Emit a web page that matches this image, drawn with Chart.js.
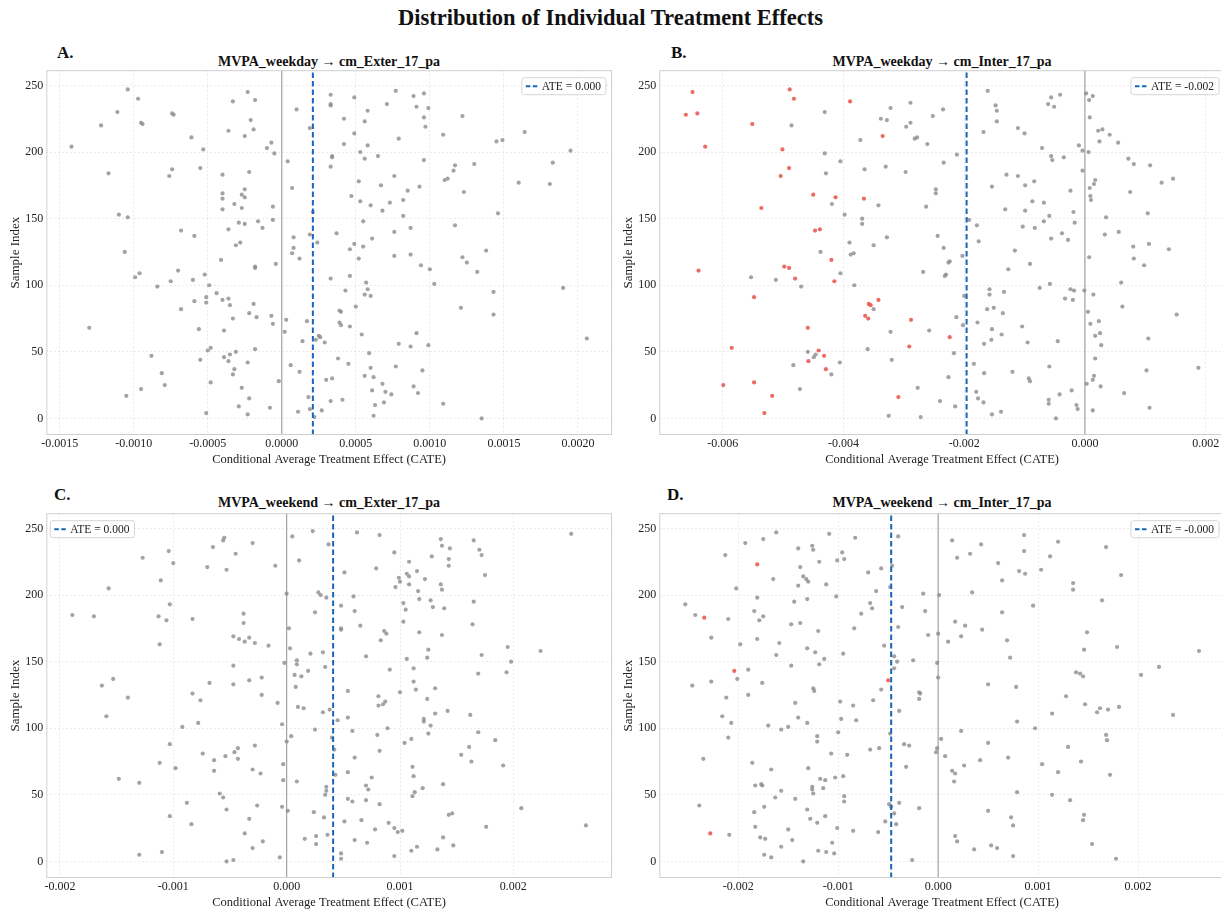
<!DOCTYPE html>
<html lang="en">
<head>
  <meta charset="UTF-8" />
  <title>Distribution of Individual Treatment Effects</title>
  <script src="https://cdn.jsdelivr.net/npm/chart.js"></script>
  <style>
    body {
      margin: 0;
      width: 1221px;
      height: 911px;
      overflow: hidden;
      position: relative;
      background: #fff;
      font-family: 'Liberation Serif', serif;
      color: #111;
    }
    h1 {
      position: absolute;
      top: 5px;
      left: 0;
      width: 1221px;
      margin: 0;
      text-align: center;
      font-size: 22.5px;
      line-height: 26px;
      font-weight: bold;
    }
    .panel { position: absolute; width: 620px; height: 410px; }
    .letter { position: absolute; font-size: 17px; line-height: 18px; font-weight: bold; }
    .ptitle { position: absolute; width: 400px; text-align: center; font-size: 14px; line-height: 16px; font-weight: bold; }
  </style>
</head>
<body>
  <h1>Distribution of Individual Treatment Effects</h1>

  <div class="letter" style="left:57px;top:44px">A.</div>
  <div class="letter" style="left:671px;top:44px">B.</div>
  <div class="letter" style="left:54px;top:486px">C.</div>
  <div class="letter" style="left:667px;top:486px">D.</div>

  <div class="ptitle" id="t0" style="left:129px;top:54px"></div>
  <div class="ptitle" id="t1" style="left:742px;top:54px"></div>
  <div class="ptitle" id="t2" style="left:129px;top:495px"></div>
  <div class="ptitle" id="t3" style="left:742px;top:495px"></div>

  <div class="panel" style="left:0;top:60px"><canvas id="c0" width="620" height="410"></canvas></div>
  <div class="panel" style="left:613px;top:60px"><canvas id="c1" width="620" height="410"></canvas></div>
  <div class="panel" style="left:0;top:503px"><canvas id="c2" width="620" height="410"></canvas></div>
  <div class="panel" style="left:613px;top:503px"><canvas id="c3" width="620" height="410"></canvas></div>

  <script>
    // ---- data: [CATE, sample index] ----
    const panelTitles = ['MVPA_weekday \u2192 cm_Exter_17_pa', 'MVPA_weekday \u2192 cm_Inter_17_pa',
                         'MVPA_weekend \u2192 cm_Exter_17_pa', 'MVPA_weekend \u2192 cm_Inter_17_pa'];
    const ateValues = [0.00021, -0.00196, 0.00041, -0.00047];
    const ateLabels = ['ATE = 0.000', 'ATE = -0.002', 'ATE = 0.000', 'ATE = -0.000'];
    const legendSide = ['right', 'right', 'left', 'right'];
    const xMins = [-0.00159, -0.00705, -0.00212, -0.00279];
    const xMaxs = [0.00223, 0.00232, 0.00287, 0.00287];
    const yRange = [-12.45, 261.45];
    const yTicks = [0, 50, 100, 150, 200, 250];

    const aTicks = [-0.0015, -0.001, -0.0005, 0, 0.0005, 0.001, 0.0015, 0.002];
    const aTickLabels = ['-0.0015', '-0.0010', '-0.0005', '0.0000', '0.0005', '0.0010', '0.0015', '0.0020'];
    const bTicks = [-0.006, -0.004, -0.002, 0, 0.002];
    const bTickLabels = ['-0.006', '-0.004', '-0.002', '0.000', '0.002'];
    const cdTicks = [-0.002, -0.001, 0, 0.001, 0.002];
    const cdTickLabels = ['-0.002', '-0.001', '0.000', '0.001', '0.002'];

    const aPoints = [
      [-0.00142,204],[-0.00122,220],[-0.00111,230],[-0.00104,247],[-0.00097,240],[-0.00095,222],[-0.00094,221],[-0.00117,184],
      [-0.00074,229],[-0.00073,228],[-0.00076,182],[-0.00074,187],[-0.00061,211],[-0.00055,188],[-0.00053,202],[-0.0004,183],
      [-0.00036,216],[-0.00033,238],[-0.00025,212],[-0.00023,245],[-0.00021,224],[-0.00019,217],[-0.00018,239],[-0.00022,185],
      [-0.0001,203],[-0.00007,207],[-0.00005,199],[0.00004,193],[0.0001,232],[0.00019,218],[0.00033,243],[0.00033,236],
      [0.00033,235],[0.00034,197],[0.00034,196],[0.00033,189],[0.00042,225],[0.00042,206],[0.00049,214],[0.00049,241],
      [0.00053,200],[0.00056,223],[0.00058,231],[0.00058,205],[0.00056,195],[0.00065,197],[0.00071,236],[0.00077,246],
      [0.00079,210],[0.00076,182],[0.00089,242],[0.00091,234],[0.00096,244],[0.00099,233],[0.00096,226],[0.00097,219],
      [0.00096,194],[0.00109,213],[0.00116,186],[0.00117,190],[0.00122,227],[0.0013,191],[0.00145,208],[0.00149,209],
      [0.00164,215],[0.00183,192],[0.00195,201],
      [0.0011,179],[0.00112,180],[0.0016,177],[0.00181,176],[0.00123,170],[0.00007,173],[0.00047,167],[0.00052,178],
      [0.00067,175],[0.00085,171],[0.00093,174],[0.00053,163],[0.0006,160],[0.00068,156],[0.00073,162],[0.00082,164],
      [0.00082,152],[0.00055,148],[0.00146,154],[0.00117,145],[0.00076,140],[0.00087,143],[0.00037,139],[0.00061,135],
      [0.00049,131],[0.00046,127],[0.00055,129],[0.00076,122],[0.00087,123],[0.00138,126],[0.00052,120],[0.00122,121],
      [0.00125,117],[0.00094,115],[0.001,112],[0.00132,110],[0.00046,107],[0.00033,105],[0.00057,102],[0.00103,101],
      [0.00058,97],[0.00043,96],[0.00056,93],[0.0006,92],[0.00143,95],[0.0019,98],[0.0005,84],[0.00121,83],[0.00039,81],[0.0004,80],
      [-0.0004,169],[-0.0004,165],[-0.00025,172],[-0.00027,168],[-0.00025,166],[-0.00032,161],[-0.00027,158],[-0.0004,157],
      [-0.00006,159],[-0.00006,149],[-0.00016,148],[-0.00013,143],[-0.00025,146],[-0.00029,147],[-0.00036,142],[-0.00028,132],
      [-0.00031,130],[-0.0011,153],[-0.00104,151],[-0.00106,125],[-0.00068,141],[-0.00059,137],[-0.00041,119],[-0.00018,114],
      [-0.00018,113],[-0.00004,116],[-0.00099,106],[-0.00096,109],[-0.0007,111],[-0.0006,104],[-0.00052,108],[-0.00075,103],
      [-0.00049,100],[-0.00084,99],[-0.00044,94],[-0.00051,91],[-0.00051,87],[-0.00059,88],[-0.0004,89],[-0.00036,90],
      [-0.00035,85],[-0.00019,86],[-0.00068,82],[0.00007,124],[0.00008,128],[0.00008,136],[0.00012,120],[0.00019,138],
      [0.00024,132],[0.00021,155],
      [0.00143,78],[-0.0013,68],[-0.00056,67],[-0.00039,66],[-0.00033,75],[-0.00022,79],[-0.00017,76],[-0.00007,77],
      [-0.00006,71],[0.00003,74],[0.00002,65],[0.00017,73],[0.00039,72],[0.0004,70],[0.00046,69],[0.00054,63],[0.00014,58],
      [0.00023,59],[0.00025,62],[0.00026,61],[0.00029,57],[0.00091,64],[0.00206,60],[0.00079,56],[0.00087,54],[0.00099,55],
      [-0.00018,52],[-0.0005,51],[-0.00048,53],[-0.00031,50],[0.00059,49],[-0.00088,47],[-0.00039,46],[-0.00035,48],
      [-0.00055,44],[-0.00036,43],[-0.00023,42],[0.00038,45],[0.00045,41],[0.00006,40],[0.0006,38],[0.00077,39],[-0.00032,37],
      [0.00095,36],[0.00012,35],[-0.00081,34],[-0.00033,33],[0.00056,32],[0.00062,31],[0.00034,30],[0.0003,29],[-0.00002,28],
      [-0.00048,27],[0.00068,26],[-0.00079,25],[0.00089,24],[-0.00027,23],[-0.00095,22],[0.00061,21],[0.0007,20],[0.00092,19],
      [0.00074,18],[-0.00105,17],[0.00018,16],[-0.00022,15],[0.00041,14],[0.00033,13],[0.00069,12],[0.00109,11],[0.00063,10],
      [-0.00029,9],[-0.00008,8],[0.00019,7],[0.00027,6],[0.00011,5],[-0.00051,4],[-0.00023,3],[0.00062,2],[0.00022,1],[0.00135,0]
    ];
    const aRedPoints = [];

    const bPoints = [
      [-0.00486,220],[-0.00431,230],[-0.00431,199],[-0.00429,184],[-0.00405,193],[-0.00372,209],[-0.00365,187],[-0.00338,225],
      [-0.00328,224],[-0.00322,233],[-0.0033,189],[-0.00296,219],[-0.00289,222],[-0.00289,237],[-0.00282,210],[-0.00278,211],
      [-0.00297,185],[-0.00261,206],[-0.00252,227],[-0.00235,232],[-0.00234,192],[-0.00212,198],[-0.00168,215],[-0.00161,246],
      [-0.00148,235],[-0.00146,231],[-0.00146,223],[-0.0013,183],[-0.00111,218],[-0.001,214],[-0.00111,182],[-0.00071,203],
      [-0.00056,197],[-0.00054,194],[-0.00035,196],[-0.00061,236],[-0.00051,234],[-0.00056,241],[-0.00041,243],[-0.0001,205],
      [-0.00004,201],[-0.00004,186],[0.00002,244],[0.00007,239],[0.00013,242],[0.00008,226],[0.00006,200],[0.00022,216],
      [0.00029,217],[0.00024,208],[0.00041,213],[0.00055,207],[0.00072,195],[0.00081,191],[0.00108,190],
      [-0.00419,161],[-0.00342,160],[-0.00398,153],[-0.00369,150],[-0.00369,146],[-0.0039,132],[-0.00388,123],[-0.00383,124],
      [-0.00438,125],[-0.0035,130],[-0.00328,136],[-0.00405,109],[-0.00553,106],[-0.00512,104],[-0.0047,99],[-0.00382,100],
      [-0.0035,82],[-0.00247,172],[-0.00247,169],[-0.00263,159],[-0.00244,137],[-0.00234,128],[-0.00224,118],[-0.00226,117],
      [-0.0023,108],[-0.00232,107],[-0.00268,110],[-0.00203,122],[-0.002,92],[-0.00192,149],[-0.00179,145],[-0.00176,133],
      [-0.00154,174],[-0.00132,157],[-0.00099,156],[-0.00099,175],[-0.00084,178],[-0.00087,163],[-0.00068,162],[-0.00103,144],
      [-0.00083,143],[-0.00068,148],[-0.00059,152],[-0.00019,155],[-0.00017,147],[-0.00024,171],[-0.00038,139],[-0.00028,134],
      [-0.00056,135],[-0.00116,126],[-0.00127,112],[-0.00091,116],[-0.00075,98],[-0.00058,101],[-0.00158,97],[-0.00158,93],
      [-0.00134,95],[-0.00024,97],[-0.00018,96],[-0.00033,90],[-0.0002,89],[-0.00162,82],[-0.00151,83],[0.00008,173],
      [0.00015,176],[0.00017,179],[0.00009,167],[0.0001,164],[0.00075,170],[0.00127,177],[0.00146,180],[0.00104,154],
      [0.00035,151],[0.00033,138],[0.00056,140],[0.0008,129],[0.00106,131],[0.00139,127],[0.00007,121],[0.00081,120],
      [0.00098,115],[0.0006,102],[0.00014,93],[-0.00001,96],[0.00062,84],
      [0.00005,80],[0.00152,78],[0.00009,71],[0.00023,73],[0.00017,62],[0.00025,64],[0.00027,55],[0.00105,60],[0.00017,45],
      [0.00188,38],[0.00102,36],[0.00015,32],[0.00013,29],[0.00003,26],[0.00026,24],[0.00065,19],[0.00107,8],[0.00013,6],
      [-0.00213,76],[-0.00202,70],[-0.00178,72],[-0.00154,67],[-0.00136,79],[-0.00138,63],[-0.00104,69],[-0.00258,66],
      [-0.00322,65],[-0.00155,59],[-0.00167,56],[-0.00095,57],[-0.00045,58],[-0.0036,52],[-0.00217,49],[-0.00459,50],
      [-0.00446,48],[-0.00449,46],[-0.0032,44],[-0.00406,42],[-0.00184,41],[-0.00483,40],[-0.00059,39],[-0.00167,34],
      [-0.0012,35],[-0.0042,33],[-0.00226,31],[-0.00093,30],[-0.00091,28],[-0.00472,22],[-0.00277,23],[-0.00022,21],
      [-0.0018,20],[-0.00042,18],[-0.00177,15],[-0.0006,14],[-0.0006,11],[-0.0024,13],[-0.00168,12],[-0.00215,9],
      [-0.00014,10],[-0.00012,7],[-0.00139,5],[-0.00325,2],[-0.00272,1],[-0.00154,3],[-0.00048,0]
    ];
    const bRedPoints = [
      [-0.0065,245],[-0.00661,228],[-0.00642,229],[-0.00551,221],[-0.00629,204],[-0.00489,247],[-0.00482,240],[-0.00501,202],
      [-0.0049,188],[-0.00504,182],[-0.00389,238],[-0.00335,212],[-0.0045,168],[-0.00413,166],[-0.00366,165],[-0.00536,158],
      [-0.00447,141],[-0.00439,142],[-0.0042,119],[-0.0064,111],[-0.00498,114],[-0.0049,113],[-0.0048,105],[-0.00415,103],
      [-0.00548,91],[-0.00342,89],[-0.00358,86],[-0.00355,85],[-0.00364,77],[-0.00359,75],[-0.00288,74],[-0.00459,68],
      [-0.00224,61],[-0.00585,53],[-0.00291,54],[-0.00441,51],[-0.00432,47],[-0.00458,43],[-0.00429,37],[-0.00599,25],
      [-0.00548,27],[-0.00518,17],[-0.00309,16],[-0.00531,4]
    ];

    const cPoints = [
      [0.00251,246],[0.00005,244],[0.00023,248],[0.00037,238],[0.00011,226],[0.00062,247],[0.00082,245],[0.00136,242],
      [0.00137,237],[0.00144,235],[0.00165,241],[0.0017,234],[0.00172,230],[0.00095,232],[0.00108,225],[0.00128,229],
      [0.00143,227],[0.00143,222],[0.00079,220],[0.00051,217],[0.00115,218],[0.00106,216],[0.00108,214],[0.00175,215],
      [0.00099,213],[0.001,210],[0.00122,212],[0.00108,208],[0.00096,206],[0.00136,208],[0.00137,204],[0.00116,203],
      [0.0,201],[0.00028,202],[0.0003,200],[0.00035,198],[0.00059,199],[0.00117,197],[0.00127,196],[0.00103,194],
      [0.00165,195],[0.00048,192],[0.00129,191],[0.00139,190],[0.00105,189],[0.0006,188],[0.00025,187],
      [-0.0007,221],[-0.00053,219],[-0.00065,236],[-0.00056,241],[-0.00055,243],[-0.00045,231],[-0.0003,239],[-0.0001,222],
      [-0.00104,233],[-0.001,224],[-0.00127,228],[-0.00111,211],[-0.00157,205],[-0.00103,193],[-0.00189,185],[-0.0017,184],
      [-0.00113,184],[-0.00038,186],
      [-0.00106,181],[-0.00083,182],[-0.00038,179],[0.00103,180],[0.00164,178],[0.00002,175],[0.00048,175],[0.00048,174],
      [0.00065,177],[0.00086,173],[0.00088,171],[0.00117,172],[0.00137,170],[0.00083,166],[-0.00112,163],[-0.00047,169],
      [-0.00042,167],[-0.00037,165],[-0.00033,168],[-0.00028,164],[-0.00016,162],[0.00003,160],[0.00021,156],[0.00032,157],
      [0.00125,159],[0.00195,161],[0.00224,158],[0.0007,154],[0.00172,155],[0.00124,153],[0.00106,152],[0.00009,151],
      [-0.00002,149],[0.00009,148],[0.00198,150],[-0.00047,147],[0.00034,146],[0.00112,145],[0.00091,144],[0.00019,143],
      [0.00194,142],[0.00169,141],[0.00007,140],[0.00013,139],[-0.00022,138],[-0.00153,137],[-0.00033,136],[0.00112,135],
      [-0.00068,134],[-0.00047,133],[-0.00163,132],[0.00008,131],[0.00131,130],[0.00114,129],[0.00054,128],[0.001,127],
      [-0.00083,126],[-0.00022,125],[0.00081,124],[-0.0014,123],[0.00124,122],[-0.00076,121],[0.00087,120],[-0.00008,119],
      [0.00085,118],[0.00081,117],[0.0001,116],[0.00015,115],[0.00038,114],[0.00142,113],[0.00032,112],[0.00131,111],
      [0.00162,110],[-0.00159,109],[0.00054,108],[0.00121,107],[0.00121,105],[0.00045,106],[-0.00078,104],[-0.00004,103],
      [0.00127,102],[-0.00092,101],[0.00089,100],[0.00025,99],[0.00058,98],[0.00169,97],[0.00125,96],[0.0008,95],
      [0.00004,94],[0.0004,93],[0.0011,92],[0.00184,91],[0.0,90],[0.00104,89],[-0.00103,88],[-0.00028,87],[0.00161,86],
      [-0.00043,85],[0.00042,84],[0.00082,83],
      [-0.00074,81],[-0.00046,82],[0.00154,80],[0.0006,78],[0.00163,75],[-0.00112,74],[-0.00043,77],[-0.00064,76],
      [-0.00054,79],[-0.00003,73],[0.00191,72],[0.00111,71],[-0.00098,70],[-0.0003,69],[-0.00064,68],[0.00054,67],
      [-0.00023,66],[0.00043,65],[0.00112,64],[0.00075,63],[-0.00148,62],[-0.00003,61],[0.00009,60],[-0.0013,59],
      [0.00138,58],[0.0007,57],[0.00035,56],[0.0012,55],[0.00072,54],[0.00035,53],[0.00113,52],[-0.00059,51],[0.00111,49],
      [0.00034,50],[-0.00056,48],[0.00054,47],[0.0007,46],[0.00058,45],[-0.00088,44],[0.00082,43],[-0.00026,42],
      [-0.00004,41],[0.00207,40],[-0.00053,39],[0.00001,38],[0.00024,37],[0.00143,35],[0.00146,36],[-0.00103,34],
      [0.00033,33],[-0.00033,32],[0.00066,31],[0.00051,30],[0.0009,29],[-0.00084,28],[0.00264,27],[0.00176,26],
      [0.00095,25],[0.00078,24],[0.00102,23],[0.00098,22],[-0.00037,21],[0.00036,20],[0.00026,19],[0.00138,18],
      [0.00016,17],[0.0006,16],[-0.00021,15],[0.00071,14],[0.00026,13],[0.00147,12],[0.00115,11],[-0.0003,10],
      [0.00133,9],[0.0011,8],[-0.0011,7],[0.00048,6],[0.00048,2],[-0.0013,5],[0.00095,4],[-0.00006,3],[-0.00047,1],[-0.00053,0]
    ];
    const cRedPoints = [];

    const dPoints = [
      [-0.00162,247],[-0.00109,246],[-0.00083,243],[-0.0004,244],[-0.00175,242],[-0.00193,239],[-0.0014,235],[-0.00126,237],
      [-0.00125,234],[-0.00096,232],[-0.00094,227],[-0.00101,226],[-0.00119,225],[-0.00213,230],[-0.00138,221],[-0.0007,217],
      [-0.00057,220],[-0.00046,222],[-0.00165,212],[-0.00135,214],[-0.00132,212],[-0.0013,210],[-0.00112,208],[-0.0014,207],
      [-0.00048,206],[-0.00202,205],[-0.00062,203],[-0.00102,199],[-0.00181,198],[-0.00131,197],[-0.00144,195],[-0.00253,193],
      [-0.00068,194],[-0.00066,190],[-0.00036,191],[-0.00013,188],[-0.00015,201],[0.00001,200],[-0.00184,188],[-0.00077,186],
      [-0.00243,185],[-0.00175,184],
      [0.00014,241],[0.00043,238],[0.00032,231],[0.00019,228],[0.00086,245],[0.00086,233],[0.0012,240],[0.00168,236],
      [0.00112,229],[0.0006,224],[0.00081,218],[0.00087,216],[0.00103,219],[0.00064,211],[0.00183,215],[0.00135,209],
      [0.00135,204],[0.00034,202],[0.00164,196],[0.00095,192],[0.00064,187],
      [-0.0021,182],[-0.00179,181],[-0.00227,168],[-0.00198,163],[-0.00181,167],[-0.00162,155],[-0.00159,164],[-0.00147,178],
      [-0.00138,179],[-0.0012,173],[-0.00147,147],[-0.00131,160],[-0.00123,157],[-0.00114,152],[-0.00119,148],[-0.00095,156],
      [-0.00084,175],[-0.00054,162],[-0.00044,154],[-0.00041,150],[-0.00044,145],[-0.0004,176],[-0.00025,151],[-0.0001,170],
      [0.0,171],[-0.00001,149],[0.0,138],[0.0001,165],[0.00017,180],[0.00027,177],[0.00023,169],[0.00044,174],[0.00069,166],
      [0.00072,153],[0.00149,172],[0.00146,159],[0.00179,161],[0.00261,158],[0.00221,146],[0.00203,140],[0.00138,142],
      [0.00142,141],[0.00145,139],[0.0005,133],[0.00078,131],[0.00128,124],[0.00147,118],[0.00159,112],[0.00162,115],
      [0.0017,114],[0.00181,116],[0.00114,111],[0.00235,110],[0.00079,105],[0.00097,100],[0.00023,98],[0.00003,92],
      [0.0005,89],[0.00168,95],[0.00169,91],[0.0013,86],[-0.00001,85],[-0.00019,127],[-0.00018,126],[-0.00019,122],
      [-0.00057,129],[-0.00065,121],[-0.00039,113],[-0.00048,96],[-0.00034,88],[-0.00029,87],[-0.00068,84],[-0.00059,85],
      [-0.00085,117],[-0.00098,120],[-0.00097,107],[-0.00082,106],[-0.001,97],[-0.00121,94],[-0.00121,90],[-0.00125,130],
      [-0.00124,128],[-0.00131,104],[-0.0014,108],[-0.00143,119],[-0.0015,101],[-0.00157,99],[-0.0017,102],[-0.00176,134],
      [-0.0019,144],[-0.0019,125],[-0.00201,137],[-0.00227,135],[-0.00246,132],[-0.00212,123],[-0.00216,109],[-0.00207,104],
      [-0.0021,93],
      [-0.00002,82],[-0.00235,77],[-0.00186,74],[-0.00167,69],[-0.0013,70],[-0.00107,81],[-0.00091,80],[-0.00032,71],
      [0.00007,79],[0.00014,68],[0.00017,66],[0.00026,72],[0.00042,76],[0.0007,78],[0.00104,73],[0.0012,67],[0.00143,75],
      [0.00172,65],[0.00016,60],[-0.00183,57],[-0.00177,58],[-0.00176,57],[-0.00118,62],[-0.00113,61],[-0.00103,63],
      [-0.00095,64],[-0.00126,56],[-0.00126,54],[-0.00115,55],[-0.00125,51],[-0.00157,53],[-0.00163,48],[-0.00094,49],
      [-0.00094,45],[-0.00143,47],[0.00079,52],[0.00114,50],[0.00132,46],[-0.00239,42],[-0.00174,41],[-0.00049,43],
      [-0.00047,41],[-0.00039,44],[-0.00019,40],[-0.00131,39],[0.0005,38],[-0.00184,37],[-0.00044,36],[0.00146,35],
      [-0.00113,34],[0.00073,33],[-0.00128,32],[0.00145,31],[-0.00053,30],[-0.00121,29],[-0.00042,28],[0.00075,27],
      [-0.00183,26],[-0.00101,25],[-0.0015,24],[-0.00085,23],[-0.0006,22],[-0.00209,20],[0.00017,19],[-0.00178,18],
      [-0.00173,17],[-0.00146,16],[0.00019,15],[-0.00106,14],[0.00154,13],[0.00053,12],[-0.00157,11],[0.00059,10],
      [0.00036,9],[-0.0012,8],[-0.00112,7],[-0.00104,6],[-0.00174,5],[0.00075,4],[-0.00167,3],[0.00178,2],[-0.00026,1],[-0.00135,0]
    ];
    const dRedPoints = [[-0.00181,223],[-0.00234,183],[-0.00204,143],[-0.0005,136],[-0.00228,21]];

    const panelPoints = [aPoints, bPoints, cPoints, dPoints];
    const panelRedPoints = [aRedPoints, bRedPoints, cRedPoints, dRedPoints];
    const panelTicks = [aTicks, bTicks, cdTicks, cdTicks];
    const panelTickLabels = [aTickLabels, bTickLabels, cdTickLabels, cdTickLabels];

    // ---- styling ----
    const ATE_COLOR = '#1766b8';
    const TEXT = '#222';
    const serif = '"Liberation Serif", serif';

    // frame round the plot + the "ATE = ..." legend box inside it
    const frameLegend = {
      id: 'frameLegend',
      afterDatasetsDraw(chart, args, opts) {
        const a = chart.chartArea, ctx = chart.ctx;
        ctx.save();
        ctx.strokeStyle = '#cfcfcf';
        ctx.lineWidth = 1;
        ctx.strokeRect(a.left + 0.5, a.top + 0.5, a.right - a.left - 1, a.bottom - a.top - 1);

        ctx.font = '11.5px ' + serif;
        const tw = ctx.measureText(opts.text).width;
        const w = tw + 25, h = 17;
        const x = opts.side === 'left' ? a.left + 4 : a.right - 6 - w;
        const y = a.top + 7.5;
        ctx.beginPath();
        if (ctx.roundRect) ctx.roundRect(x, y, w, h, 2.5); else ctx.rect(x, y, w, h);
        ctx.fillStyle = 'rgba(255,255,255,0.9)';
        ctx.fill();
        ctx.strokeStyle = '#d6d6d6';
        ctx.stroke();

        ctx.beginPath();
        ctx.setLineDash([4.5, 2.5]);
        ctx.strokeStyle = ATE_COLOR;
        ctx.lineWidth = 2;
        ctx.moveTo(x + 4, y + h / 2);
        ctx.lineTo(x + 16, y + h / 2);
        ctx.stroke();
        ctx.setLineDash([]);

        ctx.fillStyle = TEXT;
        ctx.textBaseline = 'middle';
        ctx.fillText(opts.text, x + 20, y + h / 2 + 0.5);
        ctx.restore();
      }
    };

    function makePanel(i) {
      document.getElementById('t' + i).textContent = panelTitles[i];
      const toXY = p => ({ x: p[0], y: p[1] });
      const ate = ateValues[i];
      const ticks = panelTicks[i];
      const tickLabels = panelTickLabels[i];

      new Chart(document.getElementById('c' + i).getContext('2d'), {
        type: 'scatter',
        data: {
          datasets: [
            {
              label: 'zero',
              data: [{ x: 0, y: yRange[0] }, { x: 0, y: yRange[1] }],
              showLine: true, borderColor: '#a3a3a3', borderWidth: 1.2, pointRadius: 0, order: 4
            },
            {
              label: 'CATE',
              data: panelPoints[i].map(toXY),
              pointRadius: 2.1, backgroundColor: 'rgba(140,140,140,0.8)', borderWidth: 0, order: 3
            },
            {
              label: 'CATE (red)',
              data: panelRedPoints[i].map(toXY),
              pointRadius: 2.1, backgroundColor: 'rgba(232,82,74,0.85)', borderWidth: 0, order: 2
            },
            {
              label: ateLabels[i],
              data: [{ x: ate, y: yRange[0] }, { x: ate, y: yRange[1] }],
              showLine: true, borderColor: ATE_COLOR, borderWidth: 2, borderDash: [5.5, 3],
              pointRadius: 0, order: 1
            }
          ]
        },
        options: {
          responsive: false,
          animation: false,
          layout: { padding: { top: 9, right: 8, left: 0, bottom: 0 } },
          plugins: {
            legend: { display: false },
            tooltip: { enabled: false },
            frameLegend: { text: ateLabels[i], side: legendSide[i] }
          },
          scales: {
            x: {
              type: 'linear',
              min: xMins[i],
              max: xMaxs[i],
              afterFit: s => { s.height = 35; },
              afterBuildTicks: s => { s.ticks = ticks.map(v => ({ value: v })); },
              ticks: {
                autoSkip: false, maxRotation: 0, padding: 2,
                color: TEXT, font: { family: serif, size: 12 },
                callback: (v, idx) => tickLabels[idx]
              },
              grid: { color: 'rgba(0,0,0,0.1)', lineWidth: 0.8, drawTicks: false },
              border: { display: false, dash: [2, 2] },
              title: {
                display: true, text: 'Conditional Average Treatment Effect (CATE)',
                color: TEXT, font: { family: serif, size: 12.5 }, padding: { top: 0, bottom: 2.5 }
              }
            },
            y: {
              type: 'linear',
              min: yRange[0],
              max: yRange[1],
              afterFit: s => { s.width = 46.3; },
              afterBuildTicks: s => { s.ticks = yTicks.map(v => ({ value: v })); },
              ticks: {
                autoSkip: false, padding: 3,
                color: TEXT, font: { family: serif, size: 12 }
              },
              grid: { color: 'rgba(0,0,0,0.1)', lineWidth: 0.8, drawTicks: false },
              border: { display: false, dash: [2, 2] },
              title: {
                display: true, text: 'Sample Index',
                color: TEXT, font: { family: serif, size: 13 }, padding: { top: 8, bottom: 0 }
              }
            }
          }
        },
        plugins: [frameLegend]
      });
    }

    [0, 1, 2, 3].forEach(makePanel);
  </script>
</body>
</html>
